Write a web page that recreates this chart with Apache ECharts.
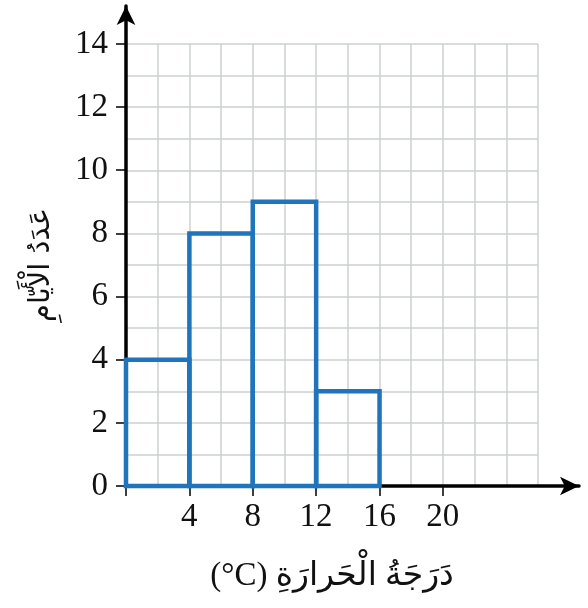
<!DOCTYPE html>
<html lang="ar">
<head>
    <meta charset="UTF-8">
    <title>histogram</title>
    <script src="https://cdn.jsdelivr.net/npm/echarts@6/dist/echarts.min.js"></script>
    <style>
        html, body { margin: 0; padding: 0; background: #fff; }
        .box { width: 588px; height: 608px; }
    </style>
</head>
<body>
    <div class="box"></div>
</body>
<script>
 // فئات درجة الحرارة وعدد الأيام
 let binStart = [0, 4, 8, 12]
 let binEnd = [4, 8, 12, 16]
 let days = [4, 8, 9, 3]
 let xTicks = [0, 4, 8, 12, 16, 20]
 let xTickLabels = [4, 8, 12, 16, 20]
 let yTickLabels = [0, 2, 4, 6, 8, 10, 12, 14]

 let numFont = 'Liberation Serif'
 let arFont = 'DejaVu Sans'

 let chart = echarts.init(document.querySelector('.box'))
 let option = {
    animation: false,
    grid: [
        { left: 126, bottom: 122, width: 412, height: 442 },   // شبكة المربعات
        { left: 126, bottom: 122, width: 453, height: 480 }    // المحاور بالأسهم
    ],
    xAxis: [
        {
            type: 'value', gridIndex: 0, min: 0, max: 26, interval: 2,
            axisLine: { show: false }, axisTick: { show: false }, axisLabel: { show: false },
            splitLine: { show: true, lineStyle: { color: '#cdd0d0', width: 1.5 } },
            name: '(°C) دَرَجَةُ الْحَرارَةِ',
            nameLocation: 'middle',
            nameGap: 74,
            nameTextStyle: { fontFamily: numFont + ', ' + arFont, fontSize: 33, color: '#111' }
        },
        {
            type: 'value', gridIndex: 1, min: 0, max: 28.6,
            splitLine: { show: false },
            axisLine: {
                show: true, onZero: false,
                symbol: ['none', 'arrow'], symbolSize: [14, 19],
                lineStyle: { color: '#000', width: 3.5 }
            },
            axisTick: { show: true, length: 10, customValues: xTicks, lineStyle: { color: '#000', width: 1.5 } },
            axisLabel: { customValues: xTickLabels, margin: 15, fontFamily: numFont, fontSize: 33, color: '#111' }
        }
    ],
    yAxis: [
        {
            type: 'value', gridIndex: 0, min: 0, max: 14, interval: 1,
            axisLine: { show: false }, axisTick: { show: false }, axisLabel: { show: false },
            splitLine: { show: true, lineStyle: { color: '#cdd0d0', width: 1.5 } },
            name: 'عَدَدُ الْأَيّامِ',
            nameLocation: 'middle',
            nameGap: 70,
            nameTextStyle: { fontFamily: arFont, fontSize: 29, color: '#111' }
        },
        {
            type: 'value', gridIndex: 1, min: 0, max: 15.2,
            splitLine: { show: false },
            axisLine: {
                show: true, onZero: false,
                symbol: ['none', 'arrow'], symbolSize: [14, 19],
                lineStyle: { color: '#000', width: 3.5 }
            },
            axisTick: { show: true, length: 10, customValues: yTickLabels, lineStyle: { color: '#000', width: 1.5 } },
            axisLabel: { customValues: yTickLabels, margin: 18, fontFamily: numFont, fontSize: 33, color: '#111' }
        }
    ],
    series: [
        {
            type: 'custom',
            xAxisIndex: 0,
            yAxisIndex: 0,
            z: 10,
            clip: false,
            encode: { x: [0, 1], y: 2 },
            data: binStart.map((s, i) => [s, binEnd[i], days[i]]),
            renderItem: function (params, api) {
                let p0 = api.coord([api.value(0), api.value(2)])
                let p1 = api.coord([api.value(1), 0])
                return {
                    type: 'rect',
                    shape: { x: p0[0], y: p0[1], width: p1[0] - p0[0], height: p1[1] - p0[1] },
                    style: { fill: 'none', stroke: '#1f74bb', lineWidth: 4.5 }
                }
            }
        }
    ]
 }
 chart.setOption(option)
</script>
</html>
